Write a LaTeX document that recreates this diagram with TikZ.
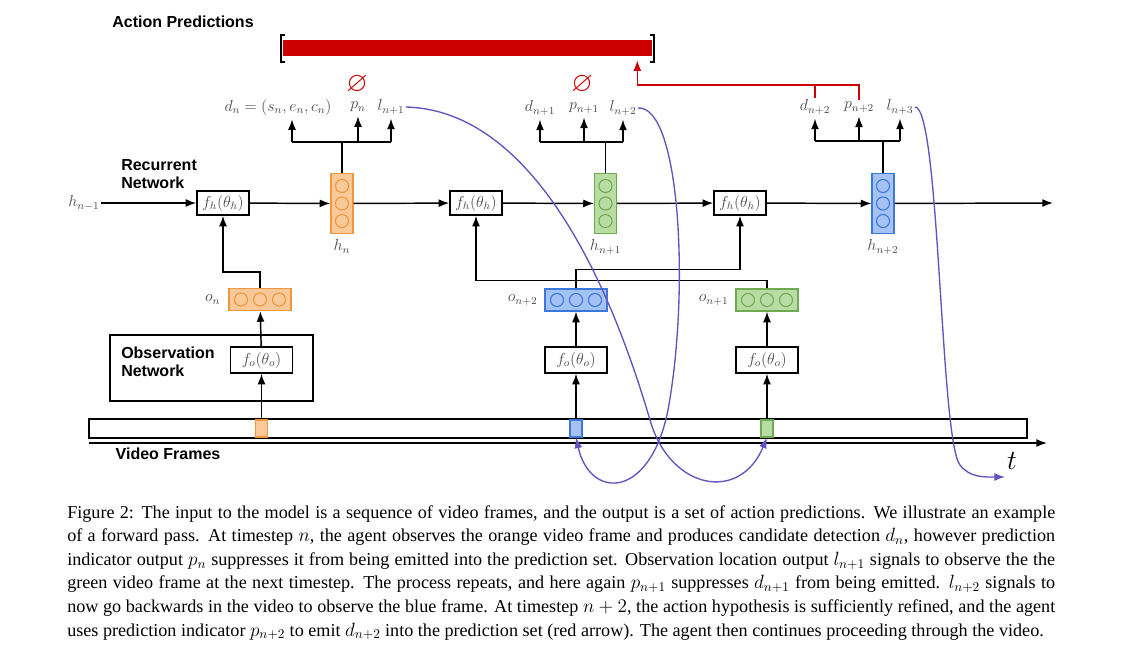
\documentclass[tikz,border=0pt]{standalone}
\usepackage{amssymb}
\usepackage{fontspec}
\setmainfont{Liberation Serif}
\setsansfont{Liberation Sans}
\usepackage{tikz}
\usetikzlibrary{arrows.meta, positioning, calc}

\definecolor{obsorange}{RGB}{249,201,154}
\definecolor{obsorangedark}{RGB}{240,150,60}
\definecolor{obsgreen}{RGB}{185,220,165}
\definecolor{obsgreendark}{RGB}{110,170,80}
\definecolor{obsblue}{RGB}{165,195,242}
\definecolor{obsbluedark}{RGB}{60,120,220}
\definecolor{predred}{RGB}{204,0,0}
\definecolor{jumpcol}{RGB}{102,80,190}
\definecolor{labgray}{RGB}{75,75,75}

\tikzset{
  heading/.style={font=\fontsize{12}{13.5}\selectfont\sffamily\bfseries, align=left, inner sep=0pt},
  lab/.style={font=\fontsize{11.5}{14}\selectfont, text=labgray, inner sep=1pt},
  fhbox/.style={draw, line width=1.1pt, minimum width=39pt, minimum height=18pt, inner sep=0pt,
    font=\fontsize{11.5}{14}\selectfont, text=labgray},
  fobox/.style={fhbox, minimum width=46.5pt, minimum height=19.5pt},
  hvec/.style={draw, line width=0.9pt, minimum width=16.5pt, minimum height=45pt, inner sep=0pt},
  ovec/.style={draw, line width=0.9pt, minimum width=46.5pt, minimum height=16.5pt, inner sep=0pt},
  vframe/.style={draw, line width=0.8pt, minimum width=9pt, minimum height=12.75pt, inner sep=0pt},
  link/.style={line width=1.1pt},
  arr/.style={line width=1.1pt, -{Latex[length=8pt, width=6pt]}},
  predline/.style={predred, line width=1.1pt},
  jumpline/.style={jumpcol, line width=1pt, -{Latex[length=8pt, width=6pt]}}
}

\begin{document}
\begin{tikzpicture}[x=0.75pt, y=-0.75pt]
\useasboundingbox (0,0) rectangle (1124,650);

% Action predictions
\node[heading] (apred) at (183,22) {Action Predictions};
\node[fill=predred, minimum width=276.75pt, minimum height=12pt, inner sep=0pt] (bar) at (467.5,48) {};
\draw[line width=2pt] (285,35) -- (281,35) -- (281,62) -- (285,62);
\draw[line width=2pt] (650,35) -- (654,35) -- (654,62) -- (650,62);

% Outputs
\node[lab] (dn) at (278,107) {$d_n = (s_n, e_n, c_n)$};
\node[lab] (pn) at (358,107) {$p_n$};
\node[lab] (ln1) at (391,107) {$l_{n+1}$};
\node[lab] (dn1) at (540,108) {$d_{n+1}$};
\node[lab] (pn1) at (584,108) {$p_{n+1}$};
\node[lab] (ln2) at (623,108) {$l_{n+2}$};
\node[lab] (dn2) at (815,107) {$d_{n+2}$};
\node[lab] (pn2) at (859,107) {$p_{n+2}$};
\node[lab] (ln3) at (900,107) {$l_{n+3}$};
\node[font=\huge, text=predred] (empty1) at (357,85) {$\varnothing$};
\node[font=\huge, text=predred] (empty2) at (582,85) {$\varnothing$};

% Recurrent network
\node[heading] (recnet) at (121,174) [anchor=west] {Recurrent\\Network};
\node[lab] (hprev) at (84,203) {$h_{n-1}$};
\node[fhbox] (fh1) at (223,203) {$f_h(\theta_h)$};
\node[hvec, fill=obsorange, draw=obsorangedark] (hn) at (342,203.5) {};
\node[fhbox] (fh2) at (476,203) {$f_h(\theta_h)$};
\node[hvec, fill=obsgreen, draw=obsgreendark] (hn1) at (605.5,203.5) {};
\node[fhbox] (fh3) at (740,203) {$f_h(\theta_h)$};
\node[hvec, fill=obsblue, draw=obsbluedark] (hn2) at (883,203.5) {};
\node[lab, below=3pt of hn] (hnl) {$h_n$};
\node[lab, below=3pt of hn1] (hn1l) {$h_{n+1}$};
\node[lab, below=3pt of hn2] (hn2l) {$h_{n+2}$};
\coordinate (hout) at (1053,203);

% Observations
\node[ovec, fill=obsorange, draw=obsorangedark] (on) at (260,299.5) {};
\node[ovec, fill=obsblue, draw=obsbluedark] (on2) at (576,300) {};
\node[ovec, fill=obsgreen, draw=obsgreendark] (on1) at (767,300) {};
\node[lab, left=5pt of on] (onl) {$o_n$};
\node[lab, left=4pt of on2] (on2l) {$o_{n+2}$};
\node[lab, left=4pt of on1] (on1l) {$o_{n+1}$};

\foreach \b/\c in {hn/obsorangedark, hn1/obsgreendark, hn2/obsbluedark}
  \foreach \k in {-1,0,1}
    \draw[\c, line width=0.8pt] ($(\b.center)+(0,\k*17.5)$) circle (4.9pt);
\foreach \b/\c in {on/obsorangedark, on2/obsbluedark, on1/obsgreendark}
  \foreach \k in {-1,0,1}
    \draw[\c, line width=0.8pt] ($(\b.center)+(\k*19,0)$) circle (4.9pt);

% Observation network
\node[draw, line width=1.1pt, minimum width=152.25pt, minimum height=49.5pt, inner sep=0pt] (obsnet) at (211.5,368) {};
\node[heading] (obsl) at (121,362) [anchor=west] {Observation\\Network};
\node[fobox] (fo1) at (261.5,360) {$f_o(\theta_o)$};
\node[fobox] (fo2) at (576,360) {$f_o(\theta_o)$};
\node[fobox] (fo3) at (767,360) {$f_o(\theta_o)$};

% Video frames
\node[draw, line width=1pt, minimum width=703.5pt, minimum height=14.25pt, inner sep=0pt] (video) at (558,428.5) {};
\node[vframe, fill=obsorange, draw=obsorangedark] (frn) at (261.5,428.5) {};
\node[vframe, fill=obsblue, draw=obsbluedark] (frn2) at (576,428.5) {};
\node[vframe, fill=obsgreen, draw=obsgreendark] (frn1) at (767,428.5) {};
\node[heading] (vidl) at (168,454) {Video Frames};
\coordinate (tstart) at (89,443);
\coordinate (tend) at (1047,443);
\node[font=\fontsize{22}{24}\selectfont] (tl) at (1012,461) {$t$};
\coordinate (next) at (1005,477);

% Connections
\draw[arr] (hprev) -- (fh1);
\draw[arr] (fh1) -- (hn);
\draw[arr] (hn) -- (fh2);
\draw[arr] (fh2) -- (hn1);
\draw[arr] (hn1) -- (fh3);
\draw[arr] (fh3) -- (hn2);
\draw[arr] (hn2) -- (hout);
\draw[arr] (on.north) -- ++(0,-16) -| (fh1.south);
\draw[arr] (on1.north) -- ++(0,-8) -| (fh2.south);
\draw[arr] (on2.north) -- ++(0,-19) -| (fh3.south);
\draw[arr] (fo1) -- (on);
\draw[arr] (fo2) -- (on2);
\draw[arr] (fo3) -- (on1);
\draw[arr] (frn) -- (fo1);
\draw[arr] (frn2) -- (fo2);
\draw[arr] (frn1) -- (fo3);
\draw[arr] (tstart) -- (tend);

% Output branches
\coordinate (dnt) at ([xshift=10.5pt]dn.south);
\draw[link] (hn.north) -- (hn.north |- 0,142);
\draw[arr, shorten >=2pt] (dnt |- 0,142) -- (dnt);
\draw[arr, shorten >=2pt] (pn.south |- 0,142) -- (pn.south);
\draw[arr, shorten >=2pt] (ln1.south |- 0,142) -- (ln1.south);
\draw[link] (dnt |- 0,142) -- (ln1.south |- 0,142);
\draw[link] (hn1.north) -- (hn1.north |- 0,142);
\draw[arr, shorten >=2pt] (dn1.south |- 0,142) -- (dn1.south);
\draw[arr, shorten >=2pt] (pn1.south |- 0,142) -- (pn1.south);
\draw[arr, shorten >=2pt] (ln2.south |- 0,142) -- (ln2.south);
\draw[link] (dn1.south |- 0,142) -- (ln2.south |- 0,142);
\draw[link] (hn2.north) -- (hn2.north |- 0,141);
\draw[arr, shorten >=2pt] (dn2.south |- 0,141) -- (dn2.south);
\draw[arr, shorten >=2pt] (pn2.south |- 0,141) -- (pn2.south);
\draw[arr, shorten >=2pt] (ln3.south |- 0,141) -- (ln3.south);
\draw[link] (dn2.south |- 0,141) -- (ln3.south |- 0,141);

% Emitted prediction
\draw[predline] (dn2.north) -- (dn2.north |- 0,85);
\draw[predline, -{Latex[length=8pt, width=6pt]}] (pn2.north) -- (pn2.north |- 0,85) -| ([xshift=-11.25pt, yshift=-3pt]bar.south east);

% Observation jumps
\draw[jumpline] (ln1.east) .. controls (520,110) and (600,250) .. (650,420) .. controls (670,490) and (740,503) .. (frn1.south);
\draw[jumpline] (ln2.east) .. controls (680,105) and (690,290) .. (668,410) .. controls (650,500) and (590,500) .. (frn2.south);
\draw[jumpline] (ln3.east) .. controls (940,107) and (940,440) .. (960,465) .. controls (970,478) and (985,477) .. (next);

% Caption
\node[anchor=north west, inner sep=0pt, text width=741pt, align=justify, font=\fontsize{13.6}{17.7}\selectfont] (cap) at (67,505)
{Figure 2: The input to the model is a sequence of video frames, and the output is a set of action predictions. We illustrate an example\linebreak
of a forward pass. At timestep $n$, the agent observes the orange video frame and produces candidate detection $d_n$, however prediction\linebreak
indicator output $p_n$ suppresses it from being emitted into the prediction set. Observation location output $l_{n+1}$ signals to observe the the\linebreak
green video frame at the next timestep. The process repeats, and here again $p_{n+1}$ suppresses $d_{n+1}$ from being emitted. $l_{n+2}$ signals to\linebreak
now go backwards in the video to observe the blue frame. At timestep $n+2$, the action hypothesis is sufficiently refined, and the agent\linebreak
uses prediction indicator $p_{n+2}$ to emit $d_{n+2}$ into the prediction set (red arrow). The agent then continues proceeding through the video.};
\end{tikzpicture}
\end{document}
